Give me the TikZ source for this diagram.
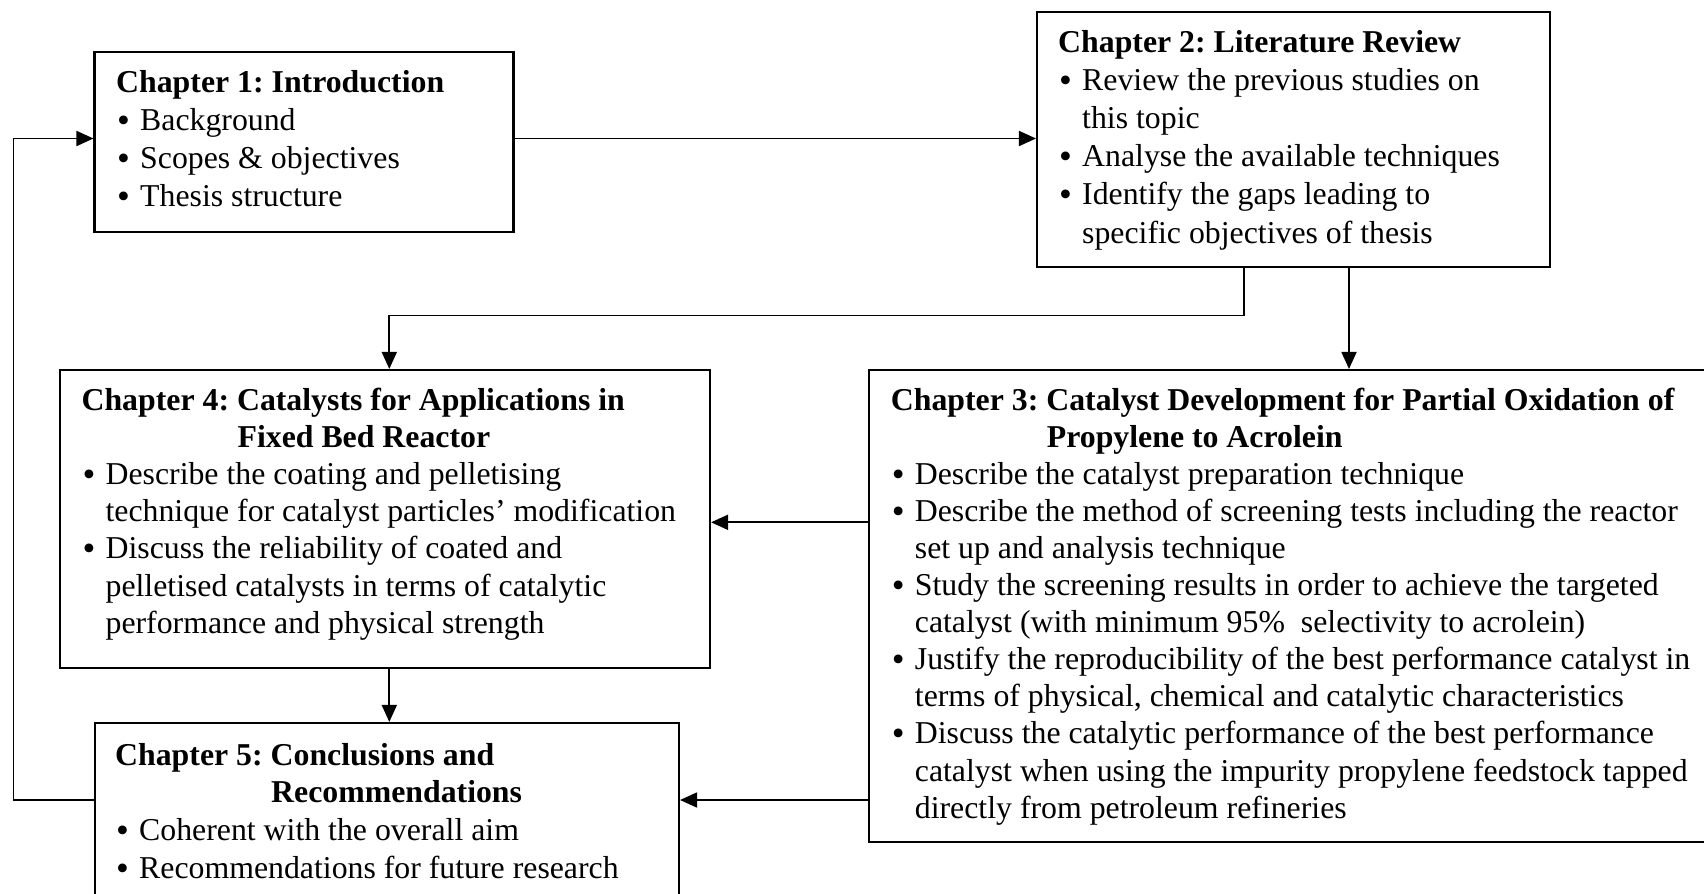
\documentclass[tikz,border=0pt]{standalone}
\usepackage{fontspec}
\setmainfont{Liberation Serif}
\usetikzlibrary{arrows.meta}
\frenchspacing

% bullet item, continuation line and indented second title line
\newcommand\bulitem{\hspace*{1bp}\makebox[23bp][l]{\raisebox{-2bp}{\scalebox{1.15}{•}}}}
\newcommand\contline{\hspace*{24bp}}
\newcommand\titleindent{\hspace*{156bp}}
% text block of a chapter box: #1 = line spacing, #2 = lines
\newcommand\chaptext[2]{\parbox[t]{830bp}{\fontsize{31.8bp}{#1}\selectfont #2}}

\begin{document}
\begin{tikzpicture}[x=1bp, y=-1bp,
  chapbox/.style={draw=black, line width=2.1bp, inner sep=0pt},
  txt/.style={anchor=base west, inner sep=0pt},
  arr/.style={draw=black, line width=1.8bp, -{Triangle[length=17bp, width=15bp]}}]

\useasboundingbox (0,0) rectangle (1704,893);

% chapter boxes
\node[chapbox, minimum width=419bp, minimum height=180bp] (c1) at (304,142) {};
\node[chapbox, minimum width=513bp, minimum height=255bp] (c2) at (1293.5,139.5) {};
\node[chapbox, minimum width=650bp, minimum height=298bp] (c4) at (385,519) {};
\node[chapbox, minimum width=839bp, minimum height=472bp] (c3) at (1288.5,606) {};
\node[chapbox, minimum width=584bp, minimum height=190bp] (c5) at (387,818) {};

% chapter texts
\node[txt] (t1) at (116,92) {\chaptext{38bp}{%
\textbf{Chapter 1: Introduction}\\
\bulitem Background\\
\bulitem Scopes \& objectives\\
\bulitem Thesis structure}};

\node[txt] (t2) at (1058,52) {\chaptext{38.2bp}{%
\textbf{Chapter 2: Literature Review}\\
\bulitem Review the previous studies on\\
\contline this topic\\
\bulitem Analyse the available techniques\\
\bulitem Identify the gaps leading to\\
\contline specific objectives of thesis}};

\node[txt] (t4) at (81.4,410) {\chaptext{37.2bp}{%
\textbf{Chapter 4: Catalysts for Applications in}\\
\titleindent\textbf{Fixed Bed Reactor}\\
\bulitem Describe the coating and pelletising\\
\contline technique for catalyst particles’ modification\\
\bulitem Discuss the reliability of coated and\\
\contline pelletised catalysts in terms of catalytic\\
\contline performance and physical strength}};

\node[txt] (t3) at (890.7,410) {\chaptext{37.1bp}{%
\textbf{Chapter 3: Catalyst Development for Partial Oxidation of}\\
\titleindent\textbf{Propylene to Acrolein}\\
\bulitem Describe the catalyst preparation technique\\
\bulitem Describe the method of screening tests including the reactor\\
\contline set up and analysis technique\\
\bulitem Study the screening results in order to achieve the targeted\\
\contline catalyst (with minimum 95\%\ \ selectivity to acrolein)\\
\bulitem Justify the reproducibility of the best performance catalyst in\\
\contline terms of physical, chemical and catalytic characteristics\\
\bulitem Discuss the catalytic performance of the best performance\\
\contline catalyst when using the impurity propylene feedstock tapped\\
\contline directly from petroleum refineries}};

\node[txt] (t5) at (115,765) {\chaptext{37.7bp}{%
\textbf{Chapter 5: Conclusions and}\\
\titleindent\textbf{Recommendations}\\
\bulitem Coherent with the overall aim\\
\bulitem Recommendations for future research}};

% routing points of the connectors
\coordinate (r1) at (1244,315.5);
\coordinate (r2) at (389.3,315.5);
\coordinate (r3) at (1349,300);
\coordinate (r4) at (790,522.3);
\coordinate (r5) at (780,800);
\coordinate (r6) at (13.5,800);
\coordinate (r7) at (50,138.5);

% connectors
\draw[arr] (c1.east |- r7) -- (c2.west |- r7);
\draw[arr] (c2.south -| r1) -- (r1) -- (r2) -- (r2 |- c4.north);
\draw[arr] (c2.south -| r3) -- (c3.north -| r3);
\draw[arr] (c3.west |- r4) -- (c4.east |- r4);
\draw[arr] (c4.south -| r2) -- (c5.north -| r2);
\draw[arr] (c3.west |- r5) -- (c5.east |- r5);
\draw[arr] (c5.west |- r6) -- (r6) |- (c1.west |- r7);

\end{tikzpicture}
\end{document}
